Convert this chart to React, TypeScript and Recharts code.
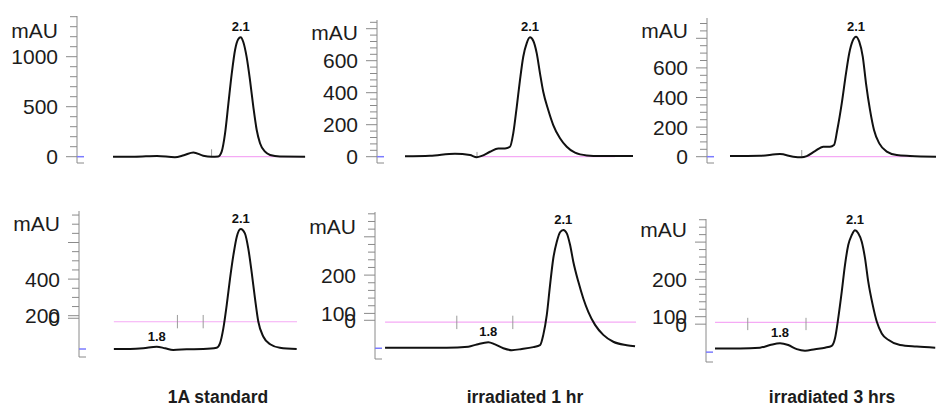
import React from "react";
import { LineChart, Line, XAxis, YAxis, ReferenceLine, ReferenceDot } from "recharts";

const W = 936;
const H = 407;

// retention time (min) and absorbance (mAU)
const topStdTime = [1.644, 1.722, 1.801, 1.865, 1.897, 1.931, 1.966, 1.996, 2.02, 2.032, 2.044, 2.056, 2.068, 2.08, 2.091, 2.1, 2.109, 2.121, 2.133, 2.145, 2.157, 2.169, 2.187, 2.205, 2.24, 2.33];
const topStdSignal = [0, 0, 8, -5, 15, 42, 10, 0, 2, 50, 230, 530, 830, 1070, 1175, 1195, 1150, 1000, 770, 500, 270, 135, 50, 17, 2, 0];

const top1hTime = [1.6, 1.7, 1.8, 1.86, 1.887, 1.907, 1.94, 1.973, 2.0, 2.02, 2.033, 2.047, 2.06, 2.073, 2.087, 2.1, 2.113, 2.127, 2.14, 2.153, 2.173, 2.193, 2.22, 2.247, 2.28, 2.327, 2.38, 2.512];
const top1hSignal = [3, 6, 19, 10, -3, 5, 31, 52, 52, 62, 146, 312, 480, 625, 710, 746, 725, 646, 521, 406, 292, 198, 115, 62, 25, 8, 4, 4];

const top3hTime = [1.596, 1.716, 1.796, 1.849, 1.883, 1.903, 1.936, 1.969, 1.996, 2.012, 2.025, 2.043, 2.06, 2.073, 2.087, 2.1, 2.113, 2.127, 2.14, 2.156, 2.172, 2.193, 2.223, 2.263, 2.316, 2.42];
const top3hSignal = [4, 6, 18, 0, -4, 4, 38, 68, 68, 79, 180, 360, 563, 699, 784, 811, 777, 676, 496, 316, 180, 90, 34, 11, 5, 0];

const lowStdTime = [1.647, 1.705, 1.752, 1.8, 1.83, 1.859, 1.907, 1.966, 2.014, 2.026, 2.038, 2.05, 2.062, 2.074, 2.086, 2.1, 2.115, 2.127, 2.139, 2.151, 2.163, 2.181, 2.205, 2.24, 2.3];
const lowStdSignal = [18, 18, 22, 31, 22, 13, 16, 18, 25, 49, 131, 258, 404, 532, 632, 674, 650, 568, 440, 295, 167, 85, 44, 25, 18];

const low1hTime = [1.387, 1.5, 1.634, 1.72, 1.754, 1.8, 1.827, 1.86, 1.894, 1.934, 1.98, 2.007, 2.02, 2.034, 2.047, 2.06, 2.074, 2.087, 2.1, 2.114, 2.127, 2.14, 2.16, 2.18, 2.2, 2.227, 2.26, 2.3, 2.354, 2.387];
const low1hSignal = [10, 10, 10, 13, 19, 25, 19, 9, 4, 7, 12, 17, 44, 96, 174, 244, 287, 312, 318, 309, 279, 235, 183, 139, 104, 70, 44, 26, 17, 14];

const low3hTime = [1.54, 1.64, 1.72, 1.76, 1.8, 1.833, 1.867, 1.9, 1.94, 1.98, 2.007, 2.02, 2.033, 2.047, 2.06, 2.073, 2.087, 2.1, 2.113, 2.127, 2.14, 2.153, 2.171, 2.187, 2.207, 2.233, 2.28, 2.347, 2.421];
const low3hSignal = [15, 15, 17, 24, 29, 24, 13, 9, 13, 17, 22, 42, 96, 167, 239, 292, 319, 332, 324, 301, 257, 194, 131, 87, 55, 38, 24, 20, 17];

// labelled y ticks
const topStdTicks = [0, 500, 1000];
const top1hTicks = [0, 200, 400, 600];
const top3hTicks = [0, 200, 400, 600];
const lowStdTicks = [200, 400];
const low1hTicks = [100, 200];
const low3hTicks = [100, 200];

const topPeaks = [2.1];
const lowPeaks = [1.8, 2.1];

const captions = ["1A standard", "irradiated 1 hr", "irradiated 3 hrs"];
const captionCenters = [218, 525, 832];

const FONT = '"Liberation Sans", Arial, sans-serif';
const AXIS = "#8a8a8a";
const PINK = "#f5aaf5";
const BLUE = "#7b7bff";

type Layout = {
  axisX: number;
  axisTop: number;
  axisBottom: number;
  plotRight: number;
  peakPx: number;
  pxPerMin: number;
  zeroPx: number;
  pxPerUnit: number;
};

type Panel = {
  time: number[];
  signal: number[];
  labelTicks: number[];
  plainMajors: number[];
  minor: [number, number, number];
  zeroTick?: number;
  mauAt: number;
  blueAt: number;
  peaks: number[];
  baseline: [number, number, number]; // value, from, to
  markers: number[];
  markerSpan: [number, number];
  layout: Layout;
};

const panels: Panel[] = [
  {
    time: topStdTime, signal: topStdSignal, labelTicks: topStdTicks, plainMajors: [],
    minor: [0, 1400, 100], mauAt: 1267, blueAt: 0, peaks: topPeaks,
    baseline: [0, 2.001, 2.322], markers: [1.996], markerSpan: [0, 74],
    layout: { axisX: 77, axisTop: 16, axisBottom: 163, plotRight: 306, peakPx: 240.7, pxPerMin: 280, zeroPx: 156.7, pxPerUnit: 0.1 },
  },
  {
    time: top1hTime, signal: top1hSignal, labelTicks: top1hTicks, plainMajors: [800],
    minor: [0, 840, 40], mauAt: 775, blueAt: 0, peaks: topPeaks,
    baseline: [0, 1.892, 2.44], markers: [1.888], markerSpan: [-3, 30],
    layout: { axisX: 377, axisTop: 20, axisBottom: 163, plotRight: 634, peakPx: 530, pxPerMin: 250, zeroPx: 156.7, pxPerUnit: 0.16 },
  },
  {
    time: top3hTime, signal: top3hSignal, labelTicks: top3hTicks, plainMajors: [800],
    minor: [0, 900, 50], mauAt: 855, blueAt: 0, peaks: topPeaks,
    baseline: [0, 1.883, 2.324], markers: [1.883], markerSpan: [0, 45],
    layout: { axisX: 707, axisTop: 18, axisBottom: 163, plotRight: 936, peakPx: 856, pxPerMin: 250, zeroPx: 156.7, pxPerUnit: 0.148 },
  },
  {
    time: lowStdTime, signal: lowStdSignal, labelTicks: lowStdTicks, plainMajors: [600],
    minor: [200, 750, 50], zeroTick: 186, mauAt: 705, blueAt: 18, peaks: lowPeaks,
    baseline: [167, 1.647, 2.301], markers: [1.874, 1.966], markerSpan: [131, 204],
    layout: { axisX: 79, axisTop: 211, axisBottom: 357, plotRight: 298, peakPx: 240.7, pxPerMin: 280, zeroPx: 352.3, pxPerUnit: 0.183 },
  },
  {
    time: low1hTime, signal: low1hSignal, labelTicks: low1hTicks, plainMajors: [300],
    minor: [100, 360, 20], zeroTick: 82, mauAt: 326, blueAt: 9, peaks: lowPeaks,
    baseline: [77, 1.387, 2.391], markers: [1.674, 1.898], markerSpan: [59, 94],
    layout: { axisX: 375, axisTop: 212, axisBottom: 359, plotRight: 636, peakPx: 563.3, pxPerMin: 250, zeroPx: 351.7, pxPerUnit: 0.383 },
  },
  {
    time: low3hTime, signal: low3hSignal, labelTicks: low3hTicks, plainMajors: [300],
    minor: [100, 360, 20], zeroTick: 80, mauAt: 334, blueAt: 5, peaks: lowPeaks,
    baseline: [85, 1.54, 2.424], markers: [1.671, 1.904], markerSpan: [64, 97],
    layout: { axisX: 706, axisTop: 219, axisBottom: 362, plotRight: 936, peakPx: 855, pxPerMin: 250, zeroPx: 354, pxPerUnit: 0.373 },
  },
];

const near = (a: number, b: number) => Math.abs(a - b) < 1e-6;

function valueAt(time: number[], signal: number[], t: number) {
  let best = 0;
  time.forEach((v, i) => {
    if (Math.abs(v - t) < Math.abs(time[best] - t)) best = i;
  });
  return signal[best];
}

function AxisTick(props: any) {
  const { x, y, payload, panel, yMin } = props;
  const v = payload.value as number;
  const p = panel as Panel;
  const isLabel = p.labelTicks.some((a) => near(a, v));
  const isZero = p.zeroTick !== undefined && near(p.zeroTick, v);
  const isMajor = isLabel || isZero || p.plainMajors.some((a) => near(a, v));
  const [from, to, step] = p.minor;
  const isMinor = v >= from - 1e-6 && v <= to + 1e-6 && near((v - from) / step, Math.round((v - from) / step));
  const textProps = { x: x - 19, y, textAnchor: "end" as const, dominantBaseline: "central" as const, fontSize: 21, fill: "#1c1c1c" };
  return (
    <g>
      {(isMajor || isMinor) && <line x1={x - (isMajor ? 11 : 7)} x2={x} y1={y} y2={y} stroke={AXIS} />}
      {near(v, yMin) && <line x1={x} x2={x + 7} y1={y} y2={y} stroke={AXIS} />}
      {near(v, p.blueAt) && <line x1={x} x2={x + 7} y1={y} y2={y} stroke={BLUE} strokeWidth={1.5} />}
      {isLabel && <text {...textProps}>{String(v)}</text>}
      {isZero && <text {...textProps}>0</text>}
      {near(v, p.mauAt) && <text {...textProps}>mAU</text>}
    </g>
  );
}

function Chromatogram({ panel }: { panel: Panel }) {
  const L = panel.layout;
  const xDomain: [number, number] = [
    2.1 + (L.axisX - L.peakPx) / L.pxPerMin,
    2.1 + (L.plotRight - L.peakPx) / L.pxPerMin,
  ];
  const yDomain: [number, number] = [
    (L.zeroPx - L.axisBottom) / L.pxPerUnit,
    (L.zeroPx - L.axisTop) / L.pxPerUnit,
  ];
  const data = panel.time.map((t, i) => ({ t, v: panel.signal[i] }));

  const tickSet = new Set<number>();
  for (let v = panel.minor[0]; v <= panel.minor[1] + 1e-6; v += panel.minor[2]) tickSet.add(v);
  [...panel.labelTicks, ...panel.plainMajors, panel.mauAt, panel.blueAt, yDomain[0]].forEach((v) => tickSet.add(v));
  if (panel.zeroTick !== undefined) tickSet.add(panel.zeroTick);
  const ticks = [...tickSet].sort((a, b) => a - b);

  const [baseValue, baseFrom, baseTo] = panel.baseline;

  return (
    <div style={{ position: "absolute", left: 0, top: 0 }}>
      <LineChart
        width={W}
        height={H}
        data={data}
        margin={{ top: L.axisTop, bottom: H - L.axisBottom, left: 0, right: W - L.plotRight }}
      >
        <XAxis type="number" dataKey="t" domain={xDomain} allowDataOverflow hide />
        <YAxis
          type="number"
          domain={yDomain}
          allowDataOverflow
          width={L.axisX}
          ticks={ticks}
          interval={0}
          tickSize={0}
          tickMargin={0}
          tickLine={false}
          axisLine={{ stroke: AXIS }}
          tick={(p: any) => <AxisTick {...p} panel={panel} yMin={yDomain[0]} />}
        />
        <ReferenceLine
          segment={[{ x: baseFrom, y: baseValue }, { x: baseTo, y: baseValue }]}
          stroke={PINK}
          strokeWidth={1.2}
          ifOverflow="visible"
        />
        {panel.markers.map((m) => (
          <ReferenceLine
            key={m}
            segment={[{ x: m, y: panel.markerSpan[0] }, { x: m, y: panel.markerSpan[1] }]}
            stroke="#9a9a9a"
            ifOverflow="visible"
          />
        ))}
        <Line
          type="monotone"
          dataKey="v"
          stroke="#111"
          strokeWidth={2}
          dot={false}
          isAnimationActive={false}
        />
        {panel.peaks.map((pk) => (
          <ReferenceDot
            key={pk}
            x={pk}
            y={valueAt(panel.time, panel.signal, pk)}
            r={0}
            fill="none"
            stroke="none"
            ifOverflow="visible"
            label={{ value: pk.toFixed(1), position: "top", offset: 6, fontSize: 13, fontWeight: 700, fill: "#111" }}
          />
        ))}
      </LineChart>
    </div>
  );
}

export default function App() {
  return (
    <div
      style={{
        position: "absolute",
        left: 0,
        top: 0,
        width: W,
        height: H,
        background: "#fff",
        fontFamily: FONT,
        overflow: "hidden",
      }}
    >
      {panels.map((p, i) => (
        <Chromatogram key={i} panel={p} />
      ))}
      {captions.map((c, i) => (
        <div
          key={c}
          style={{
            position: "absolute",
            left: captionCenters[i] - 100,
            width: 200,
            top: 387,
            lineHeight: "20px",
            textAlign: "center",
            fontSize: 17.5,
            fontWeight: 700,
            color: "#1c1c1c",
          }}
        >
          {c}
        </div>
      ))}
    </div>
  );
}
